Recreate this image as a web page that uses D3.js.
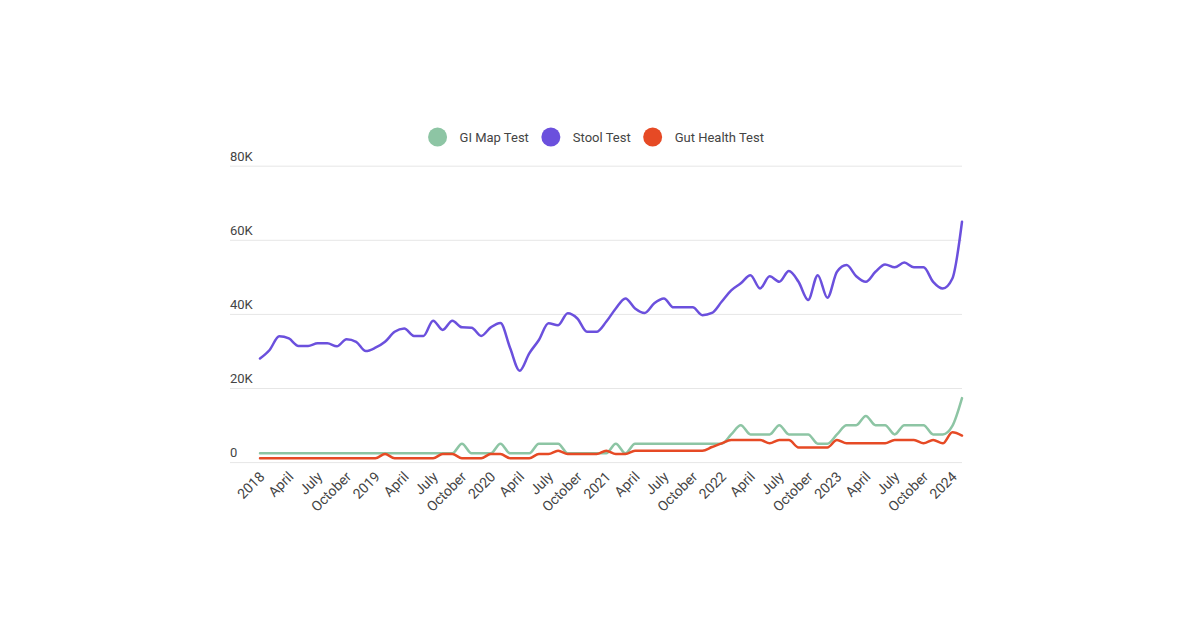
<!DOCTYPE html>
<html>
<head>
<meta charset="utf-8">
<script src="https://cdn.jsdelivr.net/npm/d3@7/dist/d3.min.js"></script>
<style>
  html, body { margin: 0; padding: 0; background: #ffffff; }
  svg { display: block; font-family: Roboto, "Noto Sans", sans-serif; }
</style>
</head>
<body>
<svg id="chart" width="1200" height="628"></svg>
<script>
// ---------- DATA ----------
const months = [
  "2018-01","2018-02","2018-03","2018-04","2018-05","2018-06","2018-07","2018-08","2018-09","2018-10","2018-11","2018-12",
  "2019-01","2019-02","2019-03","2019-04","2019-05","2019-06","2019-07","2019-08","2019-09","2019-10","2019-11","2019-12",
  "2020-01","2020-02","2020-03","2020-04","2020-05","2020-06","2020-07","2020-08","2020-09","2020-10","2020-11","2020-12",
  "2021-01","2021-02","2021-03","2021-04","2021-05","2021-06","2021-07","2021-08","2021-09","2021-10","2021-11","2021-12",
  "2022-01","2022-02","2022-03","2022-04","2022-05","2022-06","2022-07","2022-08","2022-09","2022-10","2022-11","2022-12",
  "2023-01","2023-02","2023-03","2023-04","2023-05","2023-06","2023-07","2023-08","2023-09","2023-10","2023-11","2023-12",
  "2024-01","2024-02"
];

const tickMonths = [
  "2018-01","2018-04","2018-07","2018-10","2019-01","2019-04","2019-07","2019-10",
  "2020-01","2020-04","2020-07","2020-10","2021-01","2021-04","2021-07","2021-10",
  "2022-01","2022-04","2022-07","2022-10","2023-01","2023-04","2023-07","2023-10","2024-01"
];
const tickLabels = [
  "2018","April","July","October","2019","April","July","October",
  "2020","April","July","October","2021","April","July","October",
  "2022","April","July","October","2023","April","July","October","2024"
];

const yTicks = [0, 20000, 40000, 60000, 80000];
const yTickLabels = ["0", "20K", "40K", "60K", "80K"];

const seriesNames = ["GI Map Test", "Stool Test", "Gut Health Test"];
const seriesColors = ["#8dc5a4", "#6b50dd", "#e64a25"];

const giMapTest = [
  2500,2500,2500,2500,2500,2500,2500,2500,2500,2500,2500,2500,
  2500,2500,2500,2500,2500,2500,2500,2500,2500,5100,2500,2500,
  2500,5100,2500,2500,2500,5100,5100,5100,2500,2500,2500,2500,
  2500,5100,2500,5100,5100,5100,5100,5100,5100,5100,5100,5100,
  5100,7600,10100,7600,7600,7600,10100,7600,7600,7600,5100,5100,
  7600,10100,10100,12600,10100,10100,7600,10100,10100,10100,7600,7600,
  9900,17400
];

const stoolTest = [
  28100,30400,34100,33500,31500,31500,32200,32200,31400,33300,32600,30100,
  31000,32600,35300,36200,34200,34200,38300,35800,38300,36500,36400,34200,
  36500,37700,31000,24800,29500,33100,37600,37100,40300,38900,35300,35300,
  38000,41600,44300,41600,40400,43000,44300,41900,41900,41900,39800,40400,
  43400,46500,48400,50600,47000,50300,48800,51700,48800,43900,50600,44500,
  51500,53300,50300,48800,51500,53500,52700,54000,52700,52700,48800,47000,
  49700,65000
];

const gutHealthTest = [
  1200,1200,1200,1200,1200,1200,1200,1200,1200,1200,1200,1200,
  1200,2300,1200,1200,1200,1200,1200,2300,2300,1200,1200,1200,
  2300,2300,1200,1200,1200,2300,2300,3200,2300,2300,2300,2300,
  3200,2300,2300,3200,3200,3200,3200,3200,3200,3200,3200,4200,
  5200,6100,6100,6100,6100,5200,6100,6100,4100,4100,4100,4100,
  6100,5200,5200,5200,5200,5200,6100,6100,6100,5200,6100,5200,
  8200,7300
];

const seriesValues = [giMapTest, stoolTest, gutHealthTest];

// ---------- CHART ----------
const svg = d3.select("#chart");
const plotLeft = 230, plotRight = 962;

const x = d3.scalePoint().domain(months).range([260, 962]);
const y = d3.scaleLinear().domain([0, 80000]).range([462.6, 166.2]);

// grid lines
const grid = svg.append("g").attr("class", "grid");
grid.selectAll("line")
  .data(yTicks)
  .join("line")
  .attr("x1", plotLeft).attr("x2", plotRight)
  .attr("y1", d => y(d)).attr("y2", d => y(d))
  .attr("stroke", "#e6e6e6").attr("stroke-width", 1);

// y labels (above grid lines, left aligned)
const yAxis = svg.append("g")
  .attr("transform", `translate(${plotLeft},0)`)
  .call(d3.axisRight(y).tickValues(yTicks).tickSize(0)
    .tickFormat((d, i) => yTickLabels[i]));
yAxis.select(".domain").remove();
yAxis.selectAll("text")
  .attr("x", 0).attr("dy", "-0.45em")
  .attr("fill", "#444").style("font-size", "13px")
  .style("font-family", "Roboto, sans-serif");

// x axis
const xAxis = svg.append("g")
  .attr("transform", `translate(0,${y(0)})`)
  .call(d3.axisBottom(x).tickValues(tickMonths).tickSize(0)
    .tickFormat((d, i) => tickLabels[i]));
xAxis.select(".domain").remove();
xAxis.selectAll("text")
  .attr("fill", "#444").style("font-size", "14px")
  .style("font-family", "Roboto, sans-serif")
  .attr("text-anchor", "end")
  .attr("y", 0).attr("dy", 0)
  .attr("transform", "translate(5,15) rotate(-45)");

// lines
const line = d3.line()
  .x((d, i) => x(months[i]))
  .y(d => y(d))
  .curve(d3.curveMonotoneX);

svg.append("g").selectAll("path")
  .data(seriesValues)
  .join("path")
  .attr("d", d => line(d))
  .attr("fill", "none")
  .attr("stroke", (d, i) => seriesColors[i])
  .attr("stroke-width", 2.5)
  .attr("stroke-linejoin", "round")
  .attr("stroke-linecap", "round");

// legend
const legend = svg.append("g").attr("class", "legend");
const items = legend.selectAll("g").data(seriesNames).join("g");
items.append("circle").attr("r", 9.5).attr("cy", 0)
  .attr("fill", (d, i) => seriesColors[i]);
items.append("text").text(d => d)
  .attr("x", 22).attr("dy", "0.35em")
  .attr("fill", "#444").style("font-size", "13px")
  .style("font-family", "Roboto, sans-serif");
let cx = 0;
items.each(function(d, i) {
  const w = this.querySelector("text").getComputedTextLength();
  d3.select(this).attr("transform", `translate(${cx},0)`);
  cx += 22 + w + 22;
});
const totalW = cx - 22 + 9.5;
const start = (plotLeft + plotRight) / 2 - totalW / 2 + 9.5;
legend.attr("transform", `translate(${start},137)`);
</script>
</body>
</html>
